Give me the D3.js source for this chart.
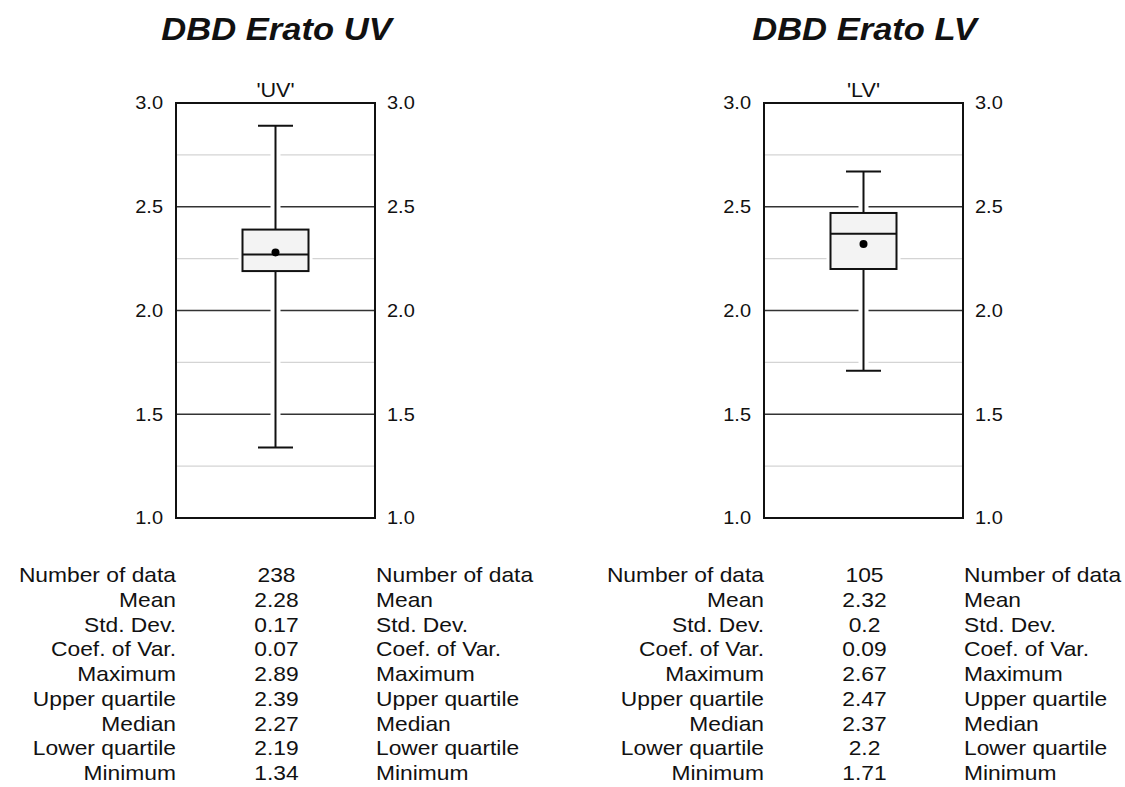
<!DOCTYPE html>
<html lang="en">
<head>
<meta charset="utf-8">
<title>DBD Erato</title>
<style>
  body { margin: 0; background: #fff; }
  text { font-family: "Liberation Sans", Arial, sans-serif; fill: #111; }
</style>
</head>
<body>
<div id="chart"></div>
<script src="https://d3js.org/d3.v7.min.js"></script>
<script>
// data
var panels = ["UV", "LV"];
var titles = ["DBD Erato UV", "DBD Erato LV"];
var nData = [238, 105];
var means = [2.28, 2.32];
var stdDevs = [0.17, 0.2];
var coefVars = [0.07, 0.09];
var maxima = [2.89, 2.67];
var upperQ = [2.39, 2.47];
var medians = [2.27, 2.37];
var lowerQ = [2.19, 2.2];
var minima = [1.34, 1.71];
var majorTicks = [1.0, 1.5, 2.0, 2.5, 3.0];
var minorTicks = [1.25, 1.75, 2.25, 2.75];
var statLabels = ["Number of data", "Mean", "Std. Dev.", "Coef. of Var.", "Maximum",
  "Upper quartile", "Median", "Lower quartile", "Minimum"];

var w = 1125, h = 787;
var sx = 1.08; // the original is a little wider than it is tall
var svg = d3.select("#chart").append("svg").attr("width", w).attr("height", h);

var y = d3.scaleLinear().domain([1, 3]).range([518, 103]);
var plotW = 199;
var lefts = [176, 764];

function label(g, x, yy, str, size, anchor, stretch) {
  return g.append("text")
    .attr("transform", "translate(" + x + "," + yy + ") scale(" + (stretch || sx) + ",1)")
    .attr("text-anchor", anchor).style("font-size", size + "px").text(str);
}

panels.forEach(function(p, i) {
  var x0 = lefts[i];
  var cx = x0 + plotW / 2;
  var g = svg.append("g");

  label(g, cx + 1, 40, titles[i], 32, "middle")
    .style("font-weight", "bold").style("font-style", "italic");
  label(g, cx, 97, "'" + p + "'", 20, "middle");

  // grid
  g.selectAll(".minor").data(minorTicks).enter().append("line")
    .attr("x1", x0).attr("x2", x0 + plotW)
    .attr("y1", d => y(d)).attr("y2", d => y(d))
    .attr("stroke", "#d4d4d4").attr("stroke-width", 1.3);
  g.selectAll(".major").data(majorTicks.filter(d => d > 1 && d < 3)).enter().append("line")
    .attr("x1", x0).attr("x2", x0 + plotW)
    .attr("y1", d => y(d)).attr("y2", d => y(d))
    .attr("stroke", "#333").attr("stroke-width", 1.3);

  // axes (labels only)
  var axL = d3.axisLeft(y).tickValues(majorTicks).tickFormat(d3.format(".1f")).tickSize(0);
  var axR = d3.axisRight(y).tickValues(majorTicks).tickFormat(d3.format(".1f")).tickSize(0);
  [[axL, x0, -13], [axR, x0 + plotW, 12]].forEach(function(a) {
    var ga = g.append("g").attr("transform", "translate(" + a[1] + ",0)").call(a[0]);
    ga.select(".domain").remove();
    ga.selectAll("text")
      .attr("x", a[2] / sx).attr("transform", "scale(" + sx + ",1)")
      .attr("font-size", null)
      .style("font-size", "18.5px").style("font-family", "Liberation Sans, Arial, sans-serif")
      .attr("fill", "#222");
  });

  var boxW = 66, capW = 35;
  // white halo under whiskers and box
  g.append("line").attr("x1", cx).attr("x2", cx).attr("y1", y(maxima[i])).attr("y2", y(minima[i]))
    .attr("stroke", "#fff").attr("stroke-width", 10);
  g.append("rect").attr("x", cx - boxW / 2 - 4).attr("y", y(upperQ[i]) - 1)
    .attr("width", boxW + 8).attr("height", y(lowerQ[i]) - y(upperQ[i]) + 2).attr("fill", "#fff");

  // whiskers
  g.append("line").attr("x1", cx).attr("x2", cx).attr("y1", y(maxima[i])).attr("y2", y(upperQ[i]))
    .attr("stroke", "#111").attr("stroke-width", 2);
  g.append("line").attr("x1", cx).attr("x2", cx).attr("y1", y(lowerQ[i])).attr("y2", y(minima[i]))
    .attr("stroke", "#111").attr("stroke-width", 2);
  [maxima[i], minima[i]].forEach(function(v) {
    g.append("line").attr("x1", cx - capW / 2).attr("x2", cx + capW / 2).attr("y1", y(v)).attr("y2", y(v))
      .attr("stroke", "#111").attr("stroke-width", 2);
  });

  // box
  g.append("rect").attr("x", cx - boxW / 2).attr("y", y(upperQ[i]))
    .attr("width", boxW).attr("height", y(lowerQ[i]) - y(upperQ[i]))
    .attr("fill", "#f3f3f3").attr("stroke", "#111").attr("stroke-width", 2);
  g.append("line").attr("x1", cx - boxW / 2).attr("x2", cx + boxW / 2)
    .attr("y1", y(medians[i])).attr("y2", y(medians[i]))
    .attr("stroke", "#111").attr("stroke-width", 2);
  g.append("circle").attr("cx", cx).attr("cy", y(means[i])).attr("r", 4).attr("fill", "#000");

  // frame
  g.append("rect").attr("x", x0).attr("y", y(3)).attr("width", plotW).attr("height", y(1) - y(3))
    .attr("fill", "none").attr("stroke", "#111").attr("stroke-width", 2);

  // stats table
  var vals = [nData[i], means[i], stdDevs[i], coefVars[i], maxima[i], upperQ[i], medians[i], lowerQ[i], minima[i]];
  var rowY = d3.scaleLinear().domain([0, 8]).range([582, 780]);
  statLabels.forEach(function(lab, k) {
    label(g, x0, rowY(k), lab, 20, "end", 1.14);
    label(g, cx + 1, rowY(k), vals[k], 20, "middle", 1.14);
    label(g, x0 + plotW + 1, rowY(k), lab, 20, "start", 1.14);
  });
});
</script>
</body>
</html>
